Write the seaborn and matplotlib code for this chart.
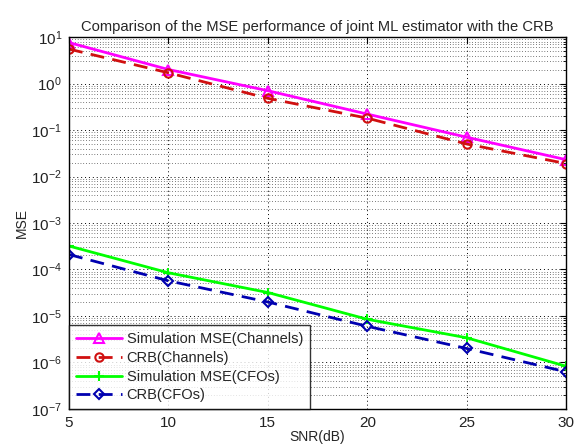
import numpy as np
import pandas as pd
import matplotlib
matplotlib.use('Agg')
import matplotlib.pyplot as plt
import seaborn as sns
from matplotlib.ticker import FixedLocator, LogFormatterMathtext, NullFormatter

##### data #####
snr_db = [5, 10, 15, 20, 25, 30]
sim_mse_channels = [7.6, 2.0, 0.70, 0.22, 0.070, 0.023]
crb_channels = [5.5, 1.7, 0.48, 0.18, 0.050, 0.019]
sim_mse_cfos = [3.2e-4, 8.5e-5, 3.2e-5, 8.5e-6, 3.4e-6, 8.3e-7]
crb_cfos = [2.1e-4, 5.7e-5, 2.0e-5, 6.0e-6, 2.0e-6, 6.3e-7]

series_names = ['Simulation MSE(Channels)', 'CRB(Channels)',
                'Simulation MSE(CFOs)', 'CRB(CFOs)']
series_vals = [sim_mse_channels, crb_channels, sim_mse_cfos, crb_cfos]

##### style #####
sns.set_style('white')
plt.rcParams['font.family'] = ['Liberation Sans', 'DejaVu Sans']

styles = {
    'Simulation MSE(Channels)': dict(color='#ff00ff', ls='-', marker='^', mfc='none', ms=7),
    'CRB(Channels)': dict(color='#d01010', ls=(0, (5, 3)), marker='o', mfc='none', ms=6),
    'Simulation MSE(CFOs)': dict(color='#00ff00', ls='-', marker='+', mfc='none', ms=7),
    'CRB(CFOs)': dict(color='#0000b0', ls=(0, (5, 3)), marker='D', mfc='none', ms=5),
}

rows = []
for name, vals in zip(series_names, series_vals):
    for x, y in zip(snr_db, vals):
        rows.append({'SNR': x, 'MSE': y, 'Series': name})
df = pd.DataFrame(rows)

fig = plt.figure(figsize=(5.8, 4.46), dpi=100)
ax = fig.add_axes([0.119, 0.083, 0.857, 0.834])

for name in series_names:
    st = styles[name]
    sub = df[df['Series'] == name]
    sns.lineplot(data=sub, x='SNR', y='MSE', ax=ax, color=st['color'],
                 linestyle=st['ls'], linewidth=2, marker=st['marker'],
                 markersize=st['ms'], markerfacecolor=st['mfc'],
                 markeredgecolor=st['color'], markeredgewidth=1.5,
                 label=name)

ax.set_yscale('log')
ax.set_xlim(5, 30)
ax.set_ylim(1e-7, 1e1)
ax.set_xticks([5, 10, 15, 20, 25, 30])
decades = 10.0 ** np.arange(-7, 2)
ax.yaxis.set_major_locator(FixedLocator(decades))
ax.yaxis.set_major_formatter(LogFormatterMathtext())
minors = [d * s for d in decades[:-1] for s in range(2, 10)]
ax.yaxis.set_minor_locator(FixedLocator(minors))
ax.yaxis.set_minor_formatter(NullFormatter())

ax.grid(True, which='major', color='black', linestyle=(0, (1, 3)), linewidth=0.7)
ax.grid(True, which='minor', axis='y', color='black', linestyle=(0, (1, 3)), linewidth=0.5)

for sp in ax.spines.values():
    sp.set_color('black')
    sp.set_linewidth(1.0)
ax.tick_params(which='both', direction='in', top=True, right=True, colors='black',
               labelsize=11, labelcolor='#222222', pad=5)
ax.tick_params(which='major', length=4)
ax.tick_params(which='minor', length=2)

ax.set_xlabel('SNR(dB)', fontsize=10, labelpad=0)
ax.set_ylabel('MSE', fontsize=10, labelpad=2)
ax.set_title('Comparison of the MSE performance of joint ML estimator with the CRB',
             fontsize=10.6, pad=4)

leg = ax.legend(loc='lower left', fontsize=10.5, frameon=True, fancybox=False,
                edgecolor='black', borderaxespad=0, handlelength=3.2,
                borderpad=0.45, labelspacing=0.33, handletextpad=0.3)
leg.get_frame().set_linewidth(1.0)

fig.savefig('out.png', dpi=100)
